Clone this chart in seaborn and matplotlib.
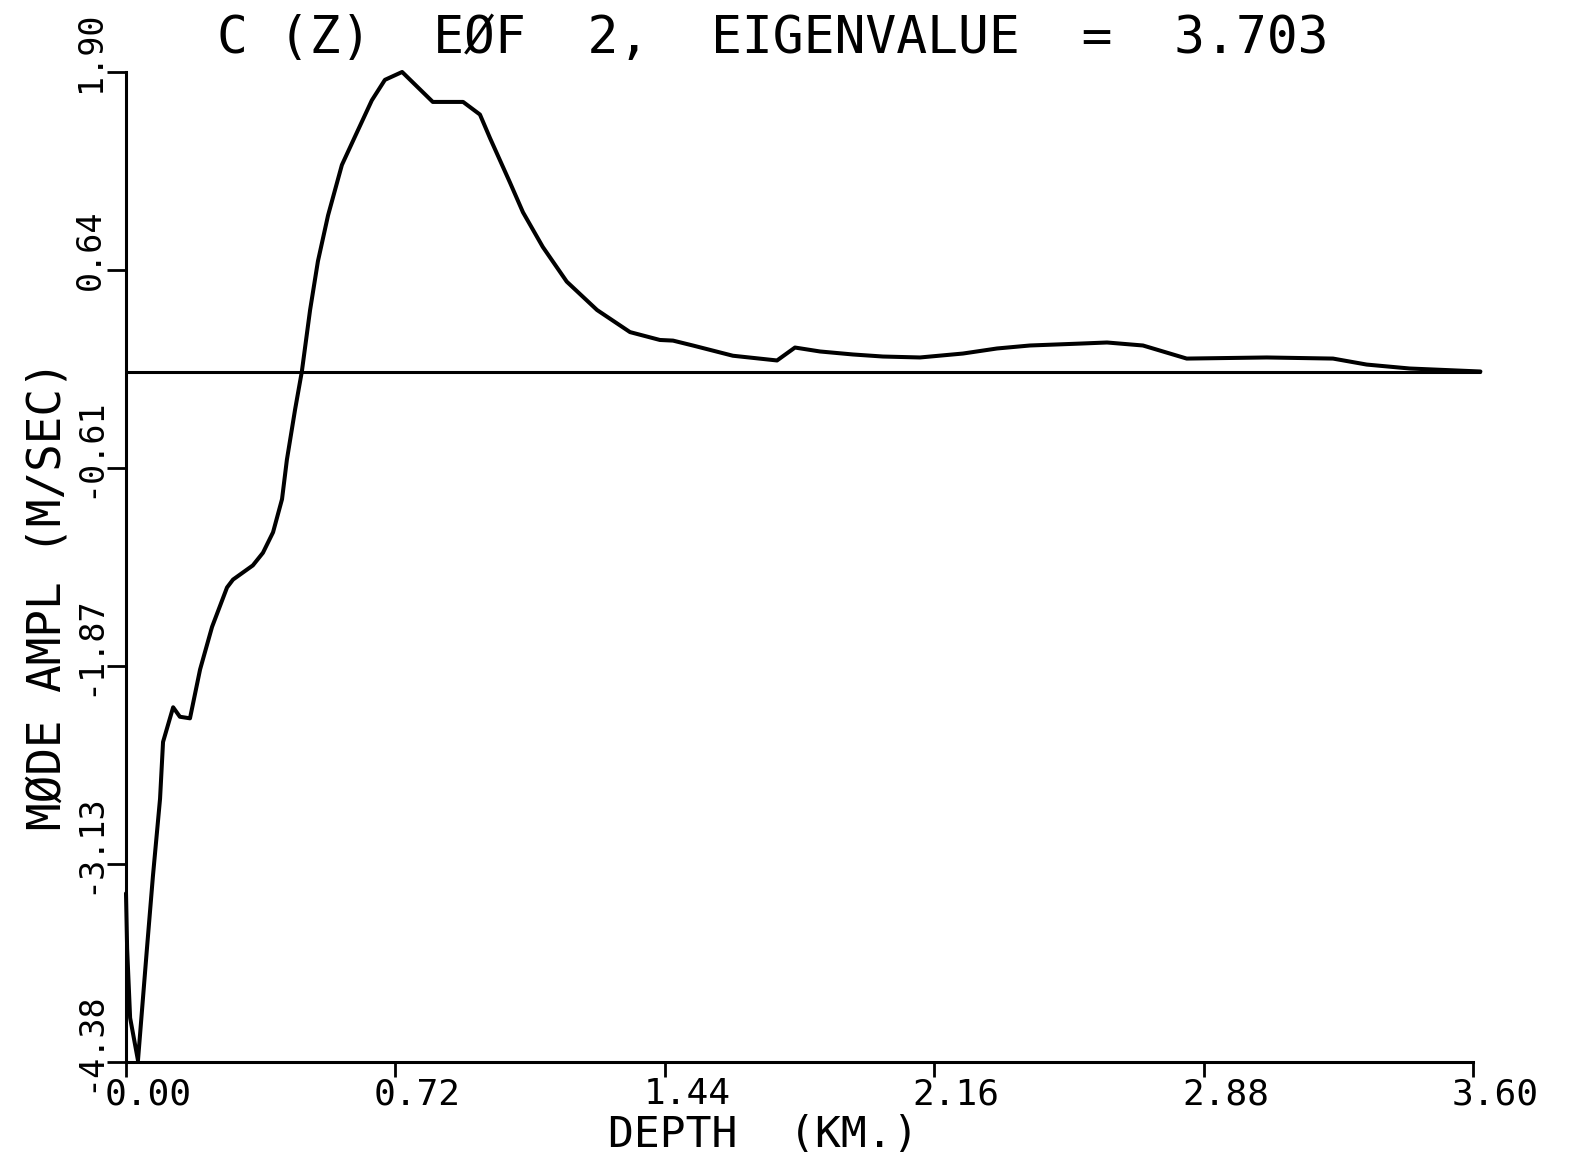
import matplotlib
matplotlib.use("Agg")
import matplotlib.pyplot as plt
import matplotlib.transforms as mtransforms
import pandas as pd
import seaborn as sns

# EOF 2 mode amplitude vs depth
depth_km = [0.000, 0.003, 0.011, 0.032, 0.056, 0.072, 0.091, 0.099, 0.126, 0.144,
            0.171, 0.198, 0.230, 0.270, 0.286, 0.339, 0.366, 0.393, 0.417, 0.430,
            0.452, 0.470, 0.492, 0.513, 0.540, 0.577, 0.612, 0.657, 0.692, 0.738,
            0.820, 0.901, 0.946, 0.973, 1.026, 1.061, 1.114, 1.178, 1.259, 1.347,
            1.427, 1.462, 1.515, 1.622, 1.740, 1.788, 1.855, 1.943, 2.023, 2.122,
            2.237, 2.328, 2.416, 2.549, 2.622, 2.718, 2.835, 3.049, 3.226, 3.316,
            3.431, 3.620]
mode_ampl = [-3.31, -3.66, -4.10, -4.37, -3.66, -3.20, -2.71, -2.35, -2.13, -2.19,
             -2.20, -1.89, -1.62, -1.37, -1.32, -1.23, -1.15, -1.02, -0.81, -0.56,
             -0.24, 0.00, 0.39, 0.70, 0.99, 1.31, 1.49, 1.72, 1.85, 1.90,
             1.71, 1.71, 1.63, 1.48, 1.20, 1.01, 0.79, 0.57, 0.39, 0.25,
             0.20, 0.196, 0.165, 0.10, 0.07, 0.152, 0.127, 0.108, 0.095, 0.089,
             0.114, 0.146, 0.165, 0.177, 0.184, 0.165, 0.082, 0.089, 0.082, 0.044,
             0.019, 0.0]

x_ticks = [0.0, 0.72, 1.44, 2.16, 2.88, 3.60]
x_labels = ["0.00", "0.72", "1.44", "2.16", "2.88", "3.60"]
y_ticks = [1.90, 0.644, -0.612, -1.868, -3.124, -4.38]
y_labels = ["1.90", "0.64", "-0.61", "-1.87", "-3.13", "-4.38"]

title = "C (Z)  EØF  2,  EIGENVALUE  =  3.703"

sns.set_theme(style="ticks")
plt.rcParams["font.family"] = ["DejaVu Sans Mono", "DejaVu Sans"]
plt.rcParams["text.color"] = "black"
plt.rcParams["axes.labelcolor"] = "black"

df = pd.DataFrame({"depth": depth_km, "ampl": mode_ampl})

fig = plt.figure(figsize=(15.75, 11.59), dpi=100)
ax = fig.add_axes([0.080, 0.0837, 0.8552, 0.8542])

sns.lineplot(data=df, x="depth", y="ampl", ax=ax, color="black",
             linewidth=2.9, estimator=None, sort=False, clip_on=False)
ax.plot([0.0, 3.62], [0.0, 0.0], color="black", linewidth=2.2, clip_on=False)

ax.set_xlim(0, 3.60)
ax.set_ylim(-4.38, 1.90)

for side in ["top", "right"]:
    ax.spines[side].set_visible(False)
for side in ["left", "bottom"]:
    ax.spines[side].set_linewidth(2.2)
    ax.spines[side].set_color("black")

ax.tick_params(axis="x", direction="out", length=11, width=2.0, pad=0,
               labelsize=26, colors="black")
ax.tick_params(axis="y", direction="out", length=14, width=2.0, pad=0,
               labelsize=24, colors="black")
ax.set_xticks(x_ticks)
ax.set_xticklabels(x_labels)
ax.set_yticks(y_ticks)
ax.set_yticklabels(y_labels, rotation=90, va="center")

# plotter put the decimal point at the tick, so shift labels a bit
x_shift = mtransforms.ScaledTranslation(0.22, 0, fig.dpi_scale_trans)
y_shift = mtransforms.ScaledTranslation(0, 0.20, fig.dpi_scale_trans)
for lab in ax.get_xticklabels():
    lab.set_transform(lab.get_transform() + x_shift)
for lab in ax.get_yticklabels():
    lab.set_transform(lab.get_transform() + y_shift)

ax.set_xlabel("DEPTH  (KM.)", fontsize=31, color="black")
ax.xaxis.set_label_coords(0.473, -0.0525)
ax.set_ylabel("MØDE AMPL (M/SEC)", fontsize=33, color="black")
ax.yaxis.set_label_coords(-0.041, 0.472)

ax.set_title(title, fontsize=37, x=0.48, pad=14, color="black")

fig.savefig("out.png", dpi=100, facecolor="white")
